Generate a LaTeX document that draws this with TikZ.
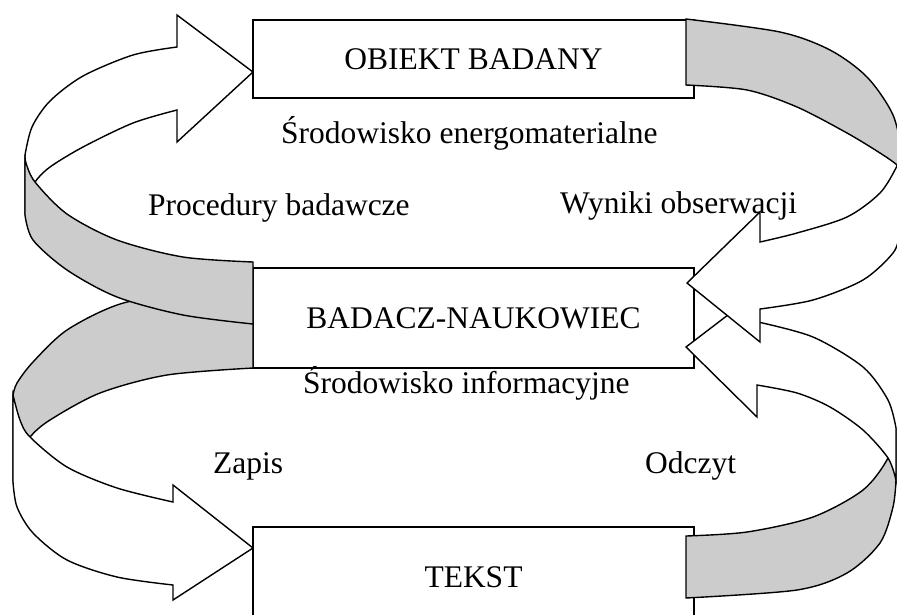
\documentclass[tikz,border=0pt]{standalone}
\usepackage{fontspec}
\setmainfont{Liberation Serif}
\newcommand{\diagfont}{\fontsize{31.5}{38}\selectfont}
\definecolor{bandgrey}{HTML}{CCCCCC}
\tikzset{
  outline/.style={draw=black, line width=1.4pt, line join=miter},
  whiteband/.style={outline, fill=white},
  greyband/.style={outline, fill=bandgrey},
  box/.style={draw=black, line width=1.4pt, fill=white, minimum width=441pt,
              inner sep=0pt, font=\diagfont},
  caption/.style={font=\diagfont, anchor=base west, inner sep=0pt},
}
\begin{document}
\begin{tikzpicture}[x=1pt, y=-1pt]
\useasboundingbox (0,0) rectangle (897,614);
\clip (0,0) rectangle (897,614);

% the three stages
\node[box, minimum height=78pt]  (obiekt) at (473.5,59)  {OBIEKT BADANY};
\node[box, minimum height=100pt] (badacz) at (473.5,318) {BADACZ-NAUKOWIEC};
\node[box, minimum height=100pt] (tekst)  at (473.5,577) {TEKST};

% reading: from TEKST back up to BADACZ-NAUKOWIEC (right, lower)
\path[greyband] (686,536)
  -- plot[smooth] coordinates {(686,536) (747,532) (813,517) (863,490) (888,458) (896,428)}
  -- (896,480)
  -- plot[smooth] coordinates {(896,480) (893,507) (880,543) (847,573) (797,590) (686,598)}
  -- cycle;
\path[whiteband] (758,322)
  -- plot[smooth] coordinates {(758,322) (813,337) (863,367) (888,400) (896,428)}
  -- (896,480)
  -- plot[smooth] coordinates {(896,480) (888,458) (863,430) (830,407) (797,393) (757,385)}
  -- (757,417) -- (686,347) -- (758,292) -- cycle;

% observation results: from OBIEKT BADANY down to BADACZ-NAUKOWIEC (right, upper)
\path[whiteband] (760,242)
  -- plot[smooth] coordinates {(760,242) (797,233) (847,217) (880,193) (897,166) (903,150)}
  -- (903,215)
  -- plot[smooth] coordinates {(903,215) (900,233) (893,253) (863,280) (813,300) (760,309)}
  -- (760,342) -- (687,283) -- (760,212) -- cycle;
\path[greyband] (686,19)
  -- plot[smooth] coordinates {(686,19) (780,32) (830,50) (867,77) (893,115) (904,160)}
  -- (904,175)
  -- plot[smooth] coordinates {(904,175) (897,165) (880,153) (847,133) (797,107) (747,90) (686,85)}
  -- cycle;

% writing: from BADACZ-NAUKOWIEC down to TEKST (left, lower)
\path[greyband] (253,285)
  -- plot[smooth] coordinates {(253,285) (190,291) (120,304) (67,330) (33,362) (17,383) (13,395)}
  -- (13,482)
  -- plot[smooth] coordinates {(13,482) (17,458) (30,437) (50,420) (100,393) (167,375) (253,368)}
  -- cycle;
\path[whiteband] (13,395)
  -- plot[smooth] coordinates {(13,395) (20,420) (30,437) (67,467) (117,488) (173,502)}
  -- (173,485) -- (253,548) -- (173,600) -- (173,585)
  -- plot[smooth] coordinates {(173,585) (117,577) (67,560) (33,533) (17,507) (13,482)}
  -- cycle;

% research procedures: from BADACZ-NAUKOWIEC up to OBIEKT BADANY (left, upper)
\path[whiteband] (25,155)
  -- plot[smooth] coordinates {(25,155) (32,127) (50,101) (83,76) (133,55) (177,47)}
  -- (177,15) -- (253,72) -- (177,142) -- (177,110)
  -- plot[smooth] coordinates {(177,110) (133,123) (83,147) (50,167) (35,182) (27,200) (25,215)}
  -- cycle;
\path[greyband] (253,262)
  -- plot[smooth] coordinates {(253,262) (183,257) (117,240) (67,214) (35,182) (26,163) (25,155)}
  -- (25,215)
  -- plot[smooth] coordinates {(25,215) (33,240) (67,270) (117,297) (183,315) (253,324)}
  -- cycle;

% captions
\node[caption] (envmat)  at (281,143) {Środowisko energomaterialne};
\node[caption] (proc)    at (148,215) {Procedury badawcze};
\node[caption] (wyniki)  at (560,213) {Wyniki obserwacji};
\node[caption] (envinf)  at (303,393) {Środowisko informacyjne};
\node[caption] (zapis)   at (213,473) {Zapis};
\node[caption] (odczyt)  at (645,473) {Odczyt};
\end{tikzpicture}
\end{document}
